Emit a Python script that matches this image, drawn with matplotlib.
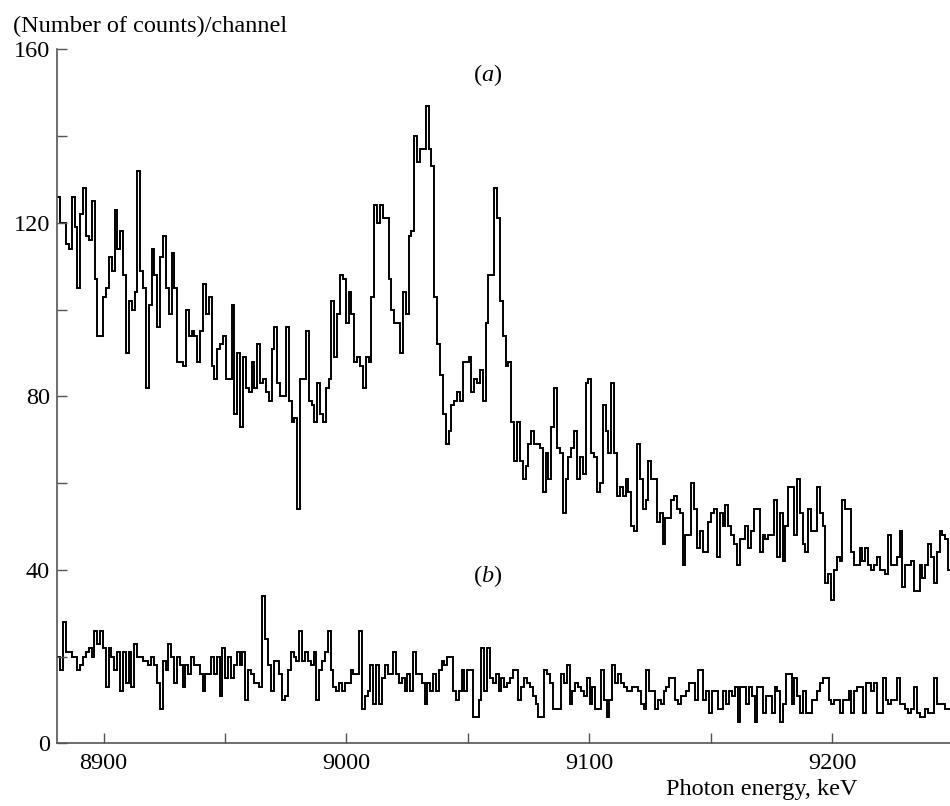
import numpy as np
import matplotlib
matplotlib.use("Agg")
import matplotlib.pyplot as plt

plt.rcParams['font.family'] = 'Liberation Serif'
plt.rcParams['mathtext.fontset'] = 'custom'
plt.rcParams['mathtext.rm'] = 'Liberation Serif'
plt.rcParams['mathtext.it'] = 'Liberation Serif:italic'

# energy span covered by the channels, keV
e_start, e_stop = 8881.0, 9249.0

# spectrum (a), counts per channel
counts_a = [
    126, 120, 120, 115, 114, 126, 119, 105, 122, 128, 117, 116, 125, 107, 94, 94,
    103, 105, 112, 109, 123, 114, 118, 108, 90, 102, 100, 104, 132, 109, 105, 82,
    101, 114, 108, 96, 112, 117, 105, 99, 113, 105, 88, 88, 87, 100, 94, 95, 94, 88,
    95, 106, 99, 103,
    87, 84, 91, 92, 94, 84, 84, 101, 76, 90, 73, 89, 82, 81, 88, 82, 92, 83, 84, 81,
    79, 91, 96, 83, 80, 80, 96, 79, 74, 75, 54, 84, 84, 95, 79, 78, 74, 83, 76, 74,
    82, 84, 102, 89, 99, 108, 107, 97, 104,
    99, 88, 89, 87, 82, 89, 88, 103, 124, 120, 124, 121, 121, 107, 100, 97, 97, 90,
    104, 99, 117, 118, 140, 134, 137, 137, 147, 137, 133, 103, 92, 85, 76, 69, 72, 78,
    79, 81, 79, 88, 88, 89, 81, 84, 83, 86, 79, 97, 108, 108, 128, 121, 102, 94, 87, 88,
    74, 65, 74, 65, 61, 64, 69, 72, 69, 69, 68, 58, 67, 61, 73, 82, 68, 67, 53, 61,
    66, 68, 72, 61, 66, 62, 83, 84, 67, 66, 58, 60, 78, 72, 67, 83, 67, 57, 59, 57,
    61, 58, 50, 49, 69, 61, 54, 56, 65, 61,
    61, 51, 53, 46, 52, 52, 56, 57, 54, 53, 41, 48, 48, 60, 54, 45, 49, 44, 44, 51,
    53, 54, 43, 53, 50, 55, 50, 48, 46, 41, 47, 47, 50, 45, 49, 54, 54, 44, 48, 47,
    48, 48, 56, 43, 53, 42, 50, 59, 59, 48, 61, 53, 46,
    44, 54, 49, 49, 59, 53, 50, 37, 39, 33, 40, 43, 42, 56, 54, 54, 44, 41, 41, 45,
    42, 45, 41, 40, 41, 43, 40, 40, 39, 48, 41, 41, 43, 49, 36, 41, 41, 42, 35, 35,
    41, 38, 41, 46, 43, 37, 44, 49, 48, 47, 40,
]

# spectrum (b), counts per channel
counts_b = [
    20, 17, 28, 21, 21, 20, 20, 17, 18, 20, 21, 22, 20, 26, 23, 26, 22, 13, 22, 20,
    17, 21, 12, 21, 14, 21, 13, 23, 20, 20, 19, 19, 18, 20, 18, 14, 8, 19, 17, 23,
    20, 14, 20, 18, 13, 18, 16, 20, 18, 18, 16, 12, 16, 16, 20, 16, 20, 11, 22, 15,
    20, 15, 18, 21, 18, 21, 10, 17, 16, 14, 14, 13, 34, 24, 18, 12, 19, 19, 16, 10,
    11, 17, 21, 20, 19, 26, 19, 21, 19, 18, 21, 10, 17, 19, 21, 26, 17, 13, 12, 14,
    12, 14, 14, 17,
    16, 16, 26, 8, 11, 12, 18, 9, 18, 9, 15, 18, 16, 16, 21, 16, 14, 15, 12, 16,
    12, 21, 16, 16, 14, 9, 14, 12, 16, 12, 17, 19, 18, 20, 20, 12, 10, 12, 17, 12,
    17, 17, 6, 6, 10, 22, 12, 22, 15, 14, 16, 12, 15, 13, 14, 15, 17, 17, 10, 13,
    15, 14, 13, 11, 9, 6, 6, 17, 16, 14, 8, 8, 8, 16, 14, 18, 9, 12, 14, 13,
    12, 11, 15, 9, 13, 8, 8, 17, 10, 6, 10, 18, 14, 16, 14, 13, 12, 12, 13, 13,
    12, 9, 8,
    17, 12, 12, 8, 10, 9, 12, 13, 15, 15, 10, 9, 11, 11, 12, 14, 14, 10, 17, 17,
    10, 12, 7, 12, 12, 8, 8, 12, 9, 12, 11, 13, 5, 13, 13, 9, 13, 11, 5, 13,
    13, 7, 11, 11, 7, 13, 12, 5, 9, 16, 16, 9, 15, 11, 7, 12, 7, 7, 10, 10,
    12, 14, 15, 15, 10, 9, 10, 10, 7, 10, 10, 12, 7, 12, 13, 13, 7, 14, 14, 12,
    14, 7, 7, 15, 10, 9, 10, 10, 15, 9, 9, 8, 7, 8, 13, 7, 6, 6, 8, 7,
    7, 15, 9, 9, 9, 8, 8,
]

xticks = [8900, 8950, 9000, 9050, 9100, 9150, 9200]
xticklabels = ['8900', '', '9000', '', '9100', '', '9200']
yticks = [0, 20, 40, 60, 80, 100, 120, 140, 160]
yticklabels = ['0', '', '40', '', '80', '', '120', '', '160']

fs = 17.5
fig = plt.figure(figsize=(9.5, 8.06), dpi=100)
ax = fig.add_axes([56.7 / 950, 1 - 743.3 / 806, 1 - 56.7 / 950, 694 / 806])

for counts in (counts_a, counts_b):
    edges = np.linspace(e_start, e_stop, len(counts) + 1)
    ax.stairs(counts, edges, baseline=None, color='black', lw=1.4)

ax.set_xlim(8880.7, 9248.6)
ax.set_ylim(0, 160)
ax.set_xticks(xticks)
ax.set_xticklabels(xticklabels, fontsize=fs)
ax.set_yticks(yticks)
ax.set_yticklabels(yticklabels, fontsize=fs)
ax.tick_params(direction='in', length=7, width=1, color='#555555')
ax.tick_params(axis='x', pad=7)
ax.tick_params(axis='y', pad=5)
for side in ('top', 'right'):
    ax.spines[side].set_visible(False)
for side in ('left', 'bottom'):
    ax.spines[side].set_color('#555555')
    ax.spines[side].set_linewidth(1.2)

ax.text(9058, 154, r'($\mathit{a}$)', fontsize=fs, ha='center', va='center')
ax.text(9058, 38.5, r'($\mathit{b}$)', fontsize=fs, ha='center', va='center')

fig.text(13 / 950, 1 - 32 / 806, '(Number of counts)/channel', fontsize=fs,
         ha='left', va='baseline')
fig.text(858 / 950, 1 - 795 / 806, 'Photon energy, keV', fontsize=fs,
         ha='right', va='baseline')

fig.savefig('out.png', dpi=100)
